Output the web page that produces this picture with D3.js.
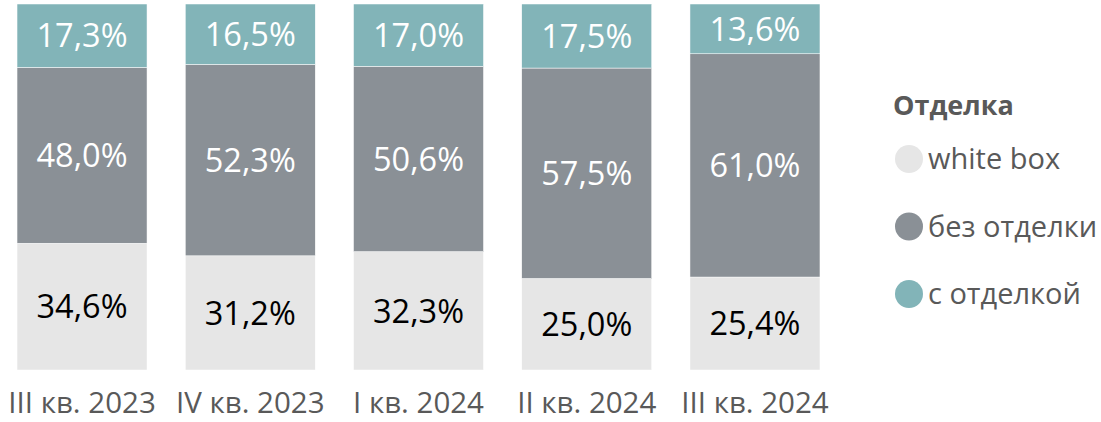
<!DOCTYPE html>
<html><head><meta charset="utf-8">
<script src="https://cdn.jsdelivr.net/npm/d3@7"></script>
<style>body{margin:0;background:#fff}svg{display:block}</style>
</head><body><svg id="c" width="1101" height="422"></svg>
<script>
const categories = ["III кв. 2023","IV кв. 2023","I кв. 2024","II кв. 2024","III кв. 2024"];
const whiteBox = [34.6, 31.2, 32.3, 25.0, 25.4];
const bezOtdelki = [48.0, 52.3, 50.6, 57.5, 61.0];
const sOtdelkoy = [17.3, 16.5, 17.0, 17.5, 13.6];
const seriesNames = ["white box","без отделки","с отделкой"];
const legendTitle = "Отделка";

const colors = ["#e6e6e6","#8a9096","#82b4b8"];
const labelColors = ["#000","#fff","#fff"];
const font = "'Open Sans', 'Noto Sans', sans-serif";

const svg = d3.select("#c");
const rows = categories.map((c,i)=>({cat:c, s0:whiteBox[i], s1:bezOtdelki[i], s2:sOtdelkoy[i]}));
const keys = ["s0","s1","s2"];
const stack = d3.stack().keys(keys).offset(d3.stackOffsetExpand)(rows);

const x = d3.scaleBand().domain(categories).range([-2.1, 839.1]).paddingInner(0.2273).paddingOuter(0.1137);
const y = d3.scaleLinear().domain([0,1]).range([370,4]);

const g = svg.append("g");
stack.forEach((layer,li)=>{
  const lg = g.append("g");
  lg.selectAll("rect").data(layer).join("rect")
    .attr("x", d=>x(d.data.cat)).attr("width", x.bandwidth())
    .attr("y", d=>y(d[1])).attr("height", d=>y(d[0])-y(d[1]))
    .attr("fill", colors[li]).attr("stroke","#fff").attr("stroke-width",0.5);
  lg.selectAll("text").data(layer).join("text")
    .attr("x", d=>x(d.data.cat)+x.bandwidth()/2)
    .attr("y", d=>(y(d[0])+y(d[1]))/2)
    .attr("dy","0.36em").attr("text-anchor","middle")
    .attr("font-family", font).attr("font-size", 32.5)
    .attr("fill", labelColors[li])
    .text(d=>d.data[keys[li]].toFixed(1).replace(".",",")+"%");
});

const xAxis = svg.append("g").attr("transform","translate(0,370)")
  .call(d3.axisBottom(x).tickSize(0).tickPadding(0));
xAxis.select(".domain").remove();
xAxis.selectAll("text").attr("font-family", font).attr("font-size", 29.5)
  .attr("fill","#595959").attr("dy", null).attr("y", 43);

const leg = svg.append("g");
leg.append("text").attr("x",893).attr("y",115).attr("font-family",font)
  .attr("font-size",27).attr("font-weight","bold").attr("fill","#595959").text(legendTitle);
const legY = d3.scalePoint().domain(seriesNames).range([159,294]);
const items = leg.selectAll("g.item").data(seriesNames).join("g").attr("class","item")
  .attr("transform", d=>`translate(0,${legY(d)})`);
items.append("circle").attr("cx",909).attr("r",14).attr("fill",(d,i)=>colors[i]);
items.append("text").attr("x",928).attr("dy","0.36em").attr("font-family",font)
  .attr("font-size",29).attr("fill","#595959").text(d=>d);
</script></body></html>
